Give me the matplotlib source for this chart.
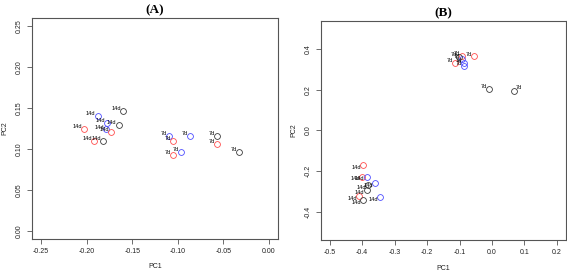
import matplotlib
matplotlib.use("Agg")
import matplotlib.pyplot as plt

# Panel A: PC1 / PC2 scores
a_x = [-0.2026, -0.1879, -0.160, -0.1773, -0.1648, -0.1784, -0.1729, -0.1916, -0.182,
       -0.1097, -0.1053, -0.0866, -0.0573, -0.0573, -0.0965, -0.1053, -0.033]
a_y = [0.1247, 0.1407, 0.1463, 0.132, 0.1291, 0.1238, 0.121, 0.1095, 0.1095,
       0.1156, 0.1095, 0.1161, 0.1161, 0.1066, 0.0964, 0.0923, 0.096]
a_group = ["red", "blue", "black", "blue", "black", "blue", "red", "red", "black",
           "blue", "red", "blue", "black", "red", "blue", "red", "black"]
a_label = ["14d"] * 9 + ["7d"] * 8

# Panel B
b_x = [-0.054, -0.114, -0.092, -0.092, -0.086, -0.086, -0.102, -0.008, 0.0666,
       -0.397, -0.400, -0.386, -0.361, -0.382, -0.386, -0.410, -0.397, -0.345]
b_y = [0.364, 0.333, 0.367, 0.352, 0.333, 0.318, 0.360, 0.205, 0.195,
       -0.173, -0.2275, -0.2275, -0.260, -0.270, -0.296, -0.324, -0.345, -0.329]
b_group = ["red", "red", "red", "blue", "blue", "blue", "black", "black", "black",
           "red", "red", "blue", "blue", "black", "black", "red", "black", "blue"]
b_label = ["7d"] * 9 + ["14d"] * 9

colors = {"red": "#ff4d4d", "blue": "#4d4dff", "black": "#3a3a3a"}
frame = "#555555"

fig = plt.figure(figsize=(5.67, 2.74), dpi=100)


def panel(rect, xs, ys, groups, labels, xlim, ylim, xticks, yticks, xfmt, yfmt, title):
    ax = fig.add_axes(rect)
    for x, y, g, lab in zip(xs, ys, groups, labels):
        ax.plot(x, y, "o", ms=4.2, mfc="none", mec=colors[g], mew=0.6)
        # labels sit upper-left, lower-left in the bottom cluster of (B),
        # and to the right for the point at the right edge
        if x > 0.03:
            ax.annotate(lab, (x, y), xytext=(1.8, 1.2), textcoords="offset points",
                        ha="left", va="baseline", fontsize=4, family="Liberation Sans")
        else:
            dy = 0.6 if y > 0 else -2.5
            ax.annotate(lab, (x, y), xytext=(-1.6, dy), textcoords="offset points",
                        ha="right", va="baseline", fontsize=4, family="Liberation Sans")
    ax.set_xlim(*xlim)
    ax.set_ylim(*ylim)
    ax.set_xticks(xticks)
    ax.set_yticks(yticks)
    ax.set_xticklabels([xfmt.format(t) for t in xticks])
    ax.set_yticklabels([yfmt.format(t) for t in yticks], rotation=90, va="center")
    for s in ax.spines.values():
        s.set_color(frame)
        s.set_linewidth(0.8)
    ax.tick_params(direction="out", length=3.6, width=0.6, color=frame,
                   labelsize=5, pad=3, labelcolor="#222222")
    for t in ax.get_xticklabels() + ax.get_yticklabels():
        t.set_family("Liberation Sans")
    ax.set_xlabel("PC1", fontsize=5, family="Liberation Sans", labelpad=6, color="#222222")
    ax.set_ylabel("PC2", fontsize=5, family="Liberation Sans", labelpad=5.5, color="#222222")
    ax.set_title(title, fontsize=9.5, fontweight="bold", family="Liberation Serif", pad=3.5)
    return ax


panel([32 / 567, 1 - 239 / 274, 246 / 567, 221 / 274], a_x, a_y, a_group, a_label,
      (-0.26, 0.01), (-0.01, 0.26),
      [-0.25, -0.20, -0.15, -0.10, -0.05, 0.0], [0.0, 0.05, 0.10, 0.15, 0.20, 0.25],
      "{:.2f}", "{:.2f}", "(A)")

panel([320.7 / 567, 1 - 240 / 274, 245.3 / 567, 219.3 / 274], b_x, b_y, b_group, b_label,
      (-0.528, 0.228), (-0.54, 0.54),
      [-0.5, -0.4, -0.3, -0.2, -0.1, 0.0, 0.1, 0.2], [-0.4, -0.2, 0.0, 0.2, 0.4],
      "{:.1f}", "{:.1f}", "(B)")

fig.savefig("out.png", dpi=100)
